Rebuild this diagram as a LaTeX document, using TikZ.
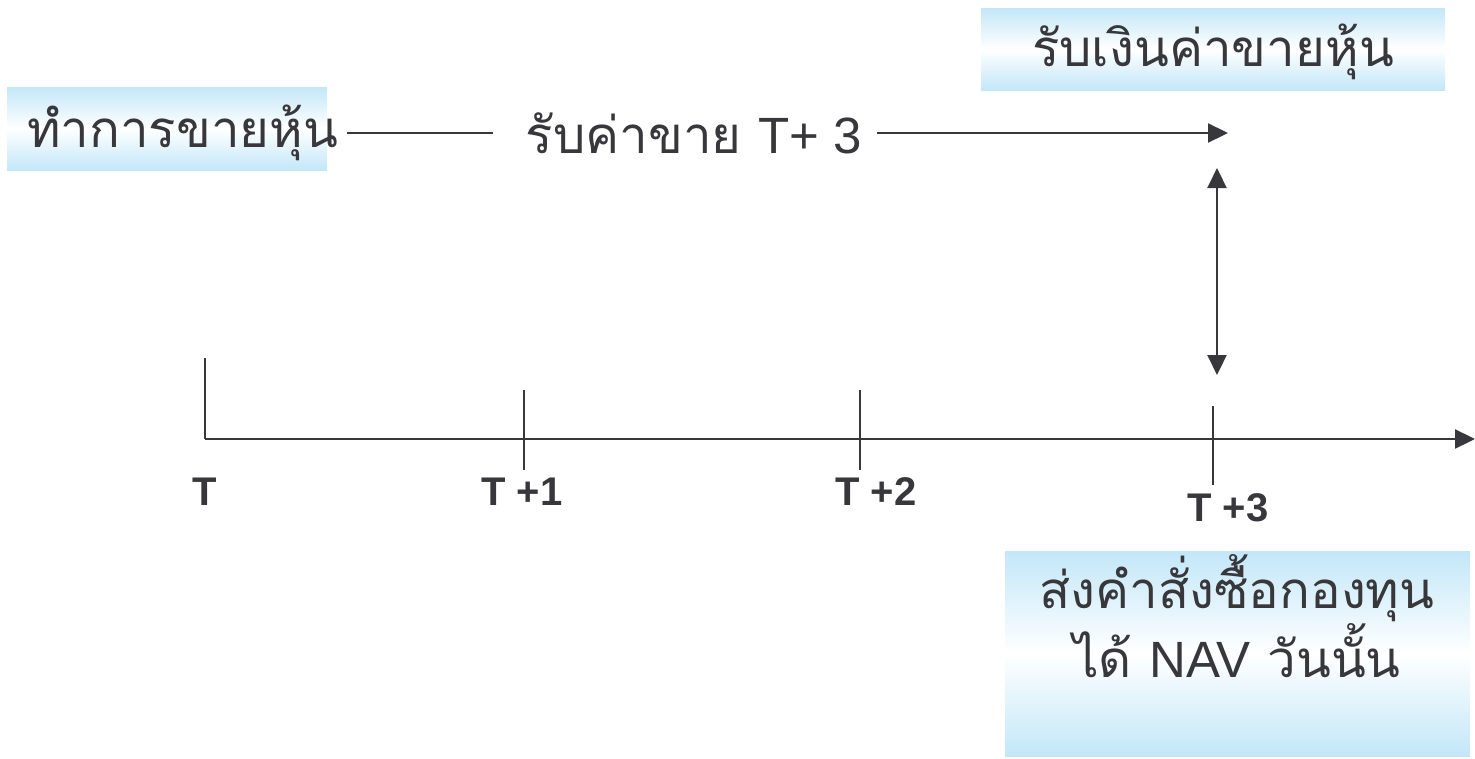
\documentclass[tikz,border=0pt]{standalone}
\usepackage{fontspec}
\usetikzlibrary{arrows.meta}
\newfontfamily\thaifont[Script=Thai]{Loma}
\newfontfamily\latfont{Liberation Sans}
\definecolor{boxblue}{HTML}{C3E7F8}
\definecolor{ink}{HTML}{38383C}
\tikzset{
  gbox/.style={draw=none,top color=boxblue,bottom color=boxblue,middle color=white,inner sep=0pt},
  thaitext/.style={text=ink,font=\thaifont\fontsize{51}{60}\selectfont,inner sep=0pt},
  ticklabel/.style={text=ink,font=\latfont\bfseries\fontsize{40}{44}\selectfont,inner sep=0pt},
  ln/.style={draw=ink,line width=2.2pt},
  arr/.style={ln,-{Triangle[length=20pt,width=19pt]}},
  darr/.style={ln,{Triangle[length=20pt,width=19pt]}-{Triangle[length=20pt,width=19pt]}},
}
\begin{document}
\begin{tikzpicture}[x=1pt,y=-1pt]
\useasboundingbox (0,0) rectangle (1475,758);
% boxes
\node[gbox,minimum width=320pt,minimum height=83pt] (box1) at (167,128.5) {};
\node[thaitext,anchor=west] (t1) at (27,133) {ทำการขายหุ้น};
\node[gbox,minimum width=464pt,minimum height=82pt] (box2) at (1213,49) {};
\node[thaitext] (t2) at (1213,52) {รับเงินค่าขายหุ้น};
\node[gbox,minimum width=465pt,minimum height=205pt] (box3) at (1237.5,653.5) {};
\node[thaitext,align=center] (t3) at (1237,616) {ส่งคำสั่งซื้อกองทุน\\ได้ {\latfont NAV} วันนั้น};
% top flow
\node[thaitext] (mid) at (694,133) {รับค่าขาย {\latfont T+ 3}};
\coordinate (l1a) at (347,133);
\coordinate (l1b) at (493,133);
\coordinate (l2a) at (877,133);
\coordinate (tgt) at (1228,133);
\draw[ln] (l1a) -- (l1b);
\draw[arr] (l2a) -- (tgt);
\coordinate (da) at (1217,168);
\coordinate (db) at (1217,375);
\draw[darr] (da) -- (db);
% axis
\coordinate (o) at (205,439);
\coordinate (otop) at (205,358);
\coordinate (aend) at (1475,439);
\draw[ln] (otop) -- (o);
\draw[arr] (o) -- (aend);
\coordinate (k1a) at (524,390); \coordinate (k1b) at (524,470);
\coordinate (k2a) at (860,390); \coordinate (k2b) at (860,470);
\coordinate (k3a) at (1213,406); \coordinate (k3b) at (1213,485);
\draw[ln] (k1a) -- (k1b);
\draw[ln] (k2a) -- (k2b);
\draw[ln] (k3a) -- (k3b);
\node[ticklabel] (lT) at (205,492) {T};
\node[ticklabel] (lT1) at (522,492) {T +1};
\node[ticklabel] (lT2) at (876,492) {T +2};
\node[ticklabel] (lT3) at (1228,508) {T +3};
\end{tikzpicture}
\end{document}
